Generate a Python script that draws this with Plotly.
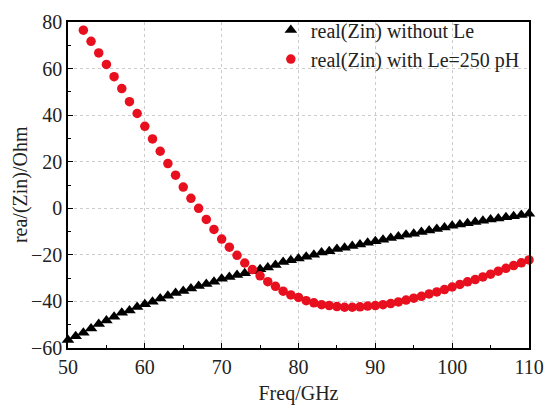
import plotly.graph_objects as go

freq_black = list(range(50, 111))
zin_without = [-56.6, -55.0, -53.4, -51.6, -49.7, -48.2, -46.6, -44.9, -43.9, -42.4,
               -41.2, -40.1, -38.7, -37.6, -36.4, -35.5, -34.4, -33.4, -32.5, -31.5,
               -30.3, -29.5, -28.7, -27.9, -27.0, -26.2, -25.4, -24.4, -23.1, -22.3,
               -21.6, -20.8, -20.0, -19.0, -18.4, -17.5, -16.9, -16.2, -15.5, -14.8,
               -14.2, -13.5, -12.8, -12.1, -11.4, -10.9, -10.2, -9.5, -8.9, -8.2,
               -7.5, -7.0, -6.4, -5.9, -5.3, -4.8, -4.4, -3.8, -3.4, -2.9, -2.3]

freq_red = list(range(52, 111))
zin_with = [76.5, 71.7, 66.7, 61.8, 56.5, 51.4, 45.8, 40.7, 35.2, 29.8,
            24.5, 19.2, 14.2, 9.1, 4.3, 0.0, -4.8, -9.1, -13.2, -16.7,
            -20.2, -23.5, -26.3, -29.0, -31.5, -33.5, -35.6, -37.2, -38.3, -39.7,
            -40.6, -41.4, -41.8, -42.2, -42.5, -42.5, -42.3, -42.0, -41.8, -41.4,
            -40.9, -40.2, -39.4, -38.6, -37.8, -36.8, -35.9, -34.9, -33.8, -32.7,
            -31.6, -30.6, -29.5, -28.3, -27.0, -25.8, -24.6, -23.4, -22.2]

x_ticks = [50, 60, 70, 80, 90, 100, 110]
y_ticks = [-60, -40, -20, 0, 20, 40, 60, 80]

FONT = "Liberation Serif"
FS = 20
TXT = "#222"

fig = go.Figure()
fig.add_trace(go.Scatter(
    x=freq_black, y=zin_without, mode="markers", name="real(Zin) without Le",
    marker=dict(symbol="triangle-up", size=11, color="black"),
    cliponaxis=False))
fig.add_trace(go.Scatter(
    x=freq_red, y=zin_with, mode="markers", name="real(Zin) with Le=250 pH",
    marker=dict(symbol="circle", size=9.5, color="#e8101f"),
    cliponaxis=False))

axis_common = dict(
    showline=True, linecolor="black", linewidth=1.5, mirror=True,
    ticks="inside", ticklen=5, tickwidth=1.2, tickcolor="black",
    showgrid=True, gridcolor="#cccccc", griddash="dot", gridwidth=1,
    zeroline=False,
    tickfont=dict(family=FONT, size=FS, color=TXT),
)

fig.update_xaxes(range=[50, 110], tickvals=x_ticks,
                 minor=dict(ticks="inside", ticklen=3, tickcolor="black", dtick=5, showgrid=False),
                 title=dict(text="Freq/GHz", font=dict(family=FONT, size=FS, color=TXT), standoff=9),
                 **axis_common)
fig.update_yaxes(range=[-60, 80], tickvals=y_ticks,
                 minor=dict(ticks="inside", ticklen=3, tickcolor="black", dtick=10, showgrid=False),
                 **axis_common)

fig.add_annotation(text="rea/(Zin)/Ohm", xref="paper", yref="paper",
                   x=-0.104, y=0.5, xanchor="center", yanchor="middle",
                   textangle=-90, showarrow=False,
                   font=dict(family=FONT, size=FS, color=TXT))

fig.update_layout(
    width=555, height=412,
    margin=dict(l=68, r=25, t=11, b=57),
    plot_bgcolor="white", paper_bgcolor="white",
    font=dict(family=FONT, size=FS, color=TXT),
    showlegend=True,
    legend=dict(x=0.44, y=1.035, xanchor="left", yanchor="top",
                bgcolor="rgba(0,0,0,0)", font=dict(family=FONT, size=FS, color=TXT),
                itemwidth=30, tracegroupgap=0),
)

fig.write_html("out.html", config={"displayModeBar": False},
               post_script="document.body.style.margin='0';")
